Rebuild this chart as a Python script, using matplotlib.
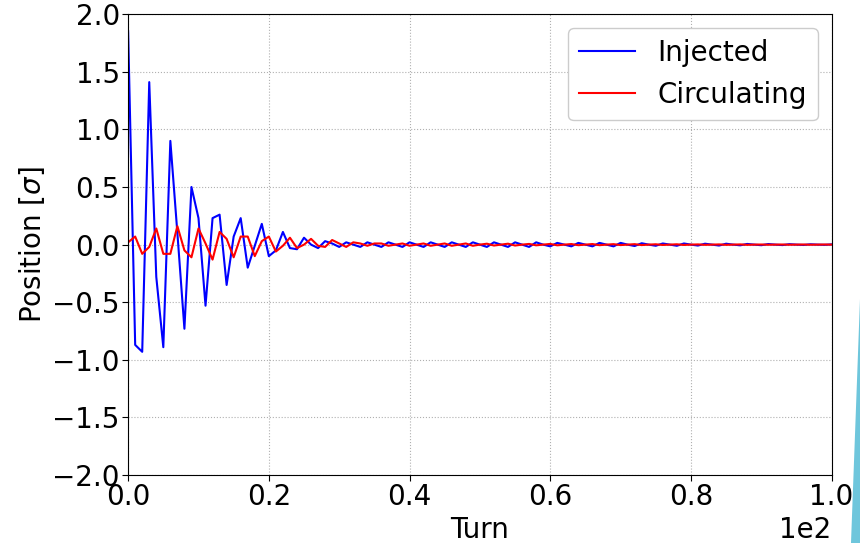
import matplotlib
matplotlib.use("Agg")
import matplotlib.pyplot as plt
from matplotlib.patches import Polygon
from matplotlib.ticker import MultipleLocator

# Turn number 0..100
turns = list(range(101))

# Injected beam position [sigma]
injected = [
    1.85, -0.87, -0.93, 1.41, -0.28, -0.89, 0.90, 0.10, -0.73, 0.50,
    0.23, -0.53, 0.23, 0.26, -0.35, 0.07, 0.23, -0.20, -0.01, 0.18,
    -0.10, -0.05, 0.11, -0.03, -0.04, 0.06, 0.00, -0.03, 0.03, 0.01,
    -0.02, 0.02, 0.00, -0.02, 0.02, 0.00, -0.02, 0.02, 0.00, -0.02,
    0.02, 0.00, -0.02, 0.02, 0.00, -0.02, 0.02, 0.00, -0.02, 0.02,
    0.00, -0.02, 0.02, 0.00, -0.02, 0.02, 0.00, -0.02, 0.02, 0.00,
    -0.015, 0.015, 0.00, -0.015, 0.015, 0.00, -0.015, 0.015, 0.00, -0.015,
    0.015, 0.00, -0.012, 0.012, 0.00, -0.01, 0.01, 0.00, -0.01, 0.01,
    0.00, -0.008, 0.008, 0.00, -0.008, 0.008, 0.00, -0.006, 0.006, 0.00,
    -0.005, 0.005, 0.00, -0.004, 0.004, 0.00, -0.003, 0.003, 0.00, -0.002,
    0.002,
]

# Circulating beam position [sigma]
circulating = [
    0.02, 0.07, -0.08, -0.02, 0.14, -0.08, -0.08, 0.16, -0.05, -0.11,
    0.14, 0.01, -0.13, 0.11, 0.05, -0.11, 0.07, 0.07, -0.10, 0.03,
    0.07, -0.06, -0.01, 0.06, -0.03, 0.00, 0.05, -0.01, -0.02, 0.04,
    0.01, -0.02, 0.02, 0.01, -0.01, 0.01, 0.01, -0.01, 0.00, 0.01,
    -0.01, 0.00, 0.01, -0.01, 0.00, 0.01, -0.01, 0.00, 0.01, -0.01,
    0.00, 0.008, -0.008, 0.00, 0.008, -0.008, 0.00, 0.006, -0.006, 0.00,
    0.006, -0.006, 0.00, 0.005, -0.005, 0.00, 0.005, -0.005, 0.00, 0.004,
    -0.004, 0.00, 0.004, -0.004, 0.00, 0.003, -0.003, 0.00, 0.003, -0.003,
    0.00, 0.002, -0.002, 0.00, 0.002, -0.002, 0.00, 0.002, -0.002, 0.00,
    0.001, -0.001, 0.00, 0.001, -0.001, 0.00, 0.001, -0.001, 0.00, 0.001,
    0.00,
]

fs = 20

fig = plt.figure(figsize=(8.6, 5.43), dpi=100)
ax = fig.add_axes([0.149, 0.125, 0.818, 0.849])

ax.plot(turns, injected, color="blue", lw=1.5, label="Injected")
ax.plot(turns, circulating, color="red", lw=1.5, label="Circulating")

ax.set_xlim(0, 100)
ax.set_ylim(-2, 2)
ax.xaxis.set_major_locator(MultipleLocator(20))
ax.yaxis.set_major_locator(MultipleLocator(0.5))
ax.ticklabel_format(axis="x", style="sci", scilimits=(0, 0))
ax.tick_params(labelsize=fs, length=4, pad=2)
ax.xaxis.get_offset_text().set_fontsize(fs)
ax.grid(True, linestyle=":", color="#b0b0b0", lw=0.8)

ax.set_xlabel("Turn", fontsize=fs, labelpad=3)
ax.set_ylabel(r"Position [$\sigma$]", fontsize=fs, labelpad=4)
ax.legend(loc="upper right", fontsize=fs, framealpha=1, edgecolor="#cccccc",
          borderaxespad=0.5)

# decorative screenshot edge at the bottom right
fig.patches.append(Polygon([[1.0, 0.45], [1.0, 0.0], [0.9895, 0.0]],
                           closed=True, transform=fig.transFigure,
                           facecolor="#6ec6dc", edgecolor="none"))

fig.savefig("out.png", dpi=100)
